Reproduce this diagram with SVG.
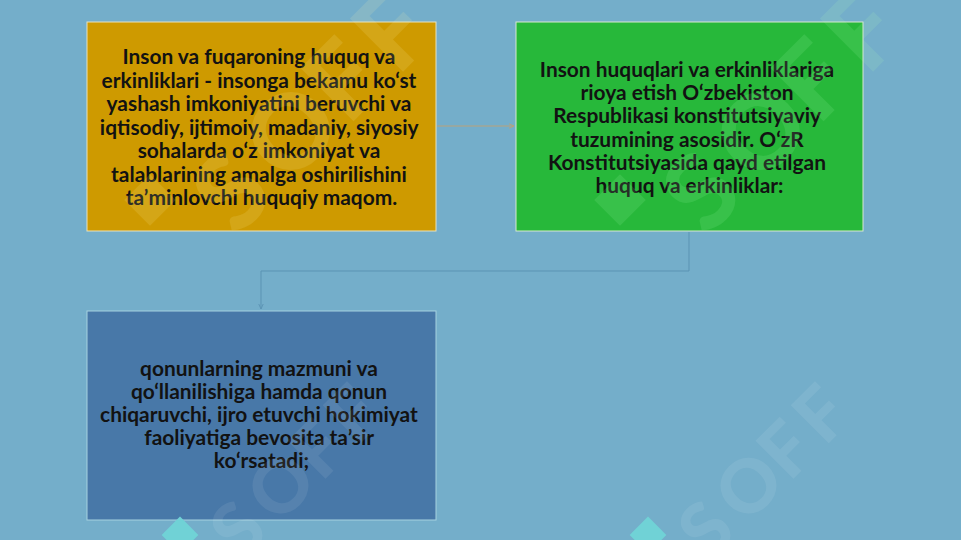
<svg xmlns="http://www.w3.org/2000/svg" xmlns:xlink="http://www.w3.org/1999/xlink" width="961" height="540" viewBox="0 0 961 540">
<style>
.box{stroke-width:1}
.t{font-family:Lato,"Noto Sans","Liberation Sans",sans-serif;font-weight:700;font-size:20.9px;fill:#121212;text-anchor:middle}
.wmt{font-family:Lato,"Liberation Sans",sans-serif;font-weight:900;font-size:74px;text-anchor:middle}
.conn{fill:none;stroke-width:1}
</style>
<defs>
<marker id="ahBlue" viewBox="0 0 10 10" refX="9" refY="5" markerWidth="6" markerHeight="6" orient="auto" markerUnits="userSpaceOnUse">
<path d="M0,1 L9,5 L0,9" fill="none" stroke="#5B93B3" stroke-width="1.5"/>
</marker>
<marker id="ahTan" viewBox="0 0 10 10" refX="9" refY="5" markerWidth="6" markerHeight="6" orient="auto" markerUnits="userSpaceOnUse">
<path d="M0,1 L9,5 L0,9" fill="none" stroke="#B9A27A" stroke-width="1.5"/>
</marker>
<g id="wmLetters">
<text class="wmt" x="45" y="63">S</text>
<text class="wmt" x="106" y="63">O</text>
<text class="wmt" x="158" y="63">F</text>
<text class="wmt" x="208" y="63">F</text>
</g>
</defs>
<rect width="961" height="540" fill="#74AECA"/>

<g id="node-1">
<rect class="box" x="87" y="22" width="349" height="209" fill="#CE9A00" stroke="#E6E2C0"/>
<text class="t">
<tspan x="261.5" y="64">Inson va fuqaroning huquq va</tspan>
<tspan x="261.5" y="87.5">erkinliklari - insonga bekamu ko‘st</tspan>
<tspan x="261.5" y="111">yashash imkoniyatini beruvchi va</tspan>
<tspan x="261.5" y="134.5">iqtisodiy, ijtimoiy, madaniy, siyosiy</tspan>
<tspan x="261.5" y="158">sohalarda o‘z imkoniyat va</tspan>
<tspan x="261.5" y="181.5">talablarining amalga oshirilishini</tspan>
<tspan x="261.5" y="205">ta’minlovchi huquqiy maqom.</tspan>
</text>
</g>

<g id="node-2">
<rect class="box" x="516" y="22" width="347" height="209" fill="#27B83A" stroke="#D8E8D0"/>
<text class="t">
<tspan x="689.5" y="77">Inson huquqlari va erkinliklariga</tspan>
<tspan x="689.5" y="100.2">rioya etish O‘zbekiston</tspan>
<tspan x="689.5" y="123.4">Respublikasi konstitutsiyaviy</tspan>
<tspan x="689.5" y="146.6">tuzumining asosidir. O‘zR</tspan>
<tspan x="689.5" y="169.8">Konstitutsiyasida qayd etilgan</tspan>
<tspan x="689.5" y="193">huquq va erkinliklar:</tspan>
</text>
</g>

<g id="node-3">
<rect class="box" x="87" y="311" width="349" height="209" fill="#4878A8" stroke="#A6D2E0"/>
<text class="t">
<tspan x="261.5" y="376">qonunlarning mazmuni va</tspan>
<tspan x="261.5" y="399">qo‘llanilishiga hamda qonun</tspan>
<tspan x="261.5" y="422">chiqaruvchi, ijro etuvchi hokimiyat</tspan>
<tspan x="261.5" y="445">faoliyatiga bevosita ta’sir</tspan>
<tspan x="261.5" y="468">ko‘rsatadi;</tspan>
</text>
</g>

<g id="connectors">
<path class="conn" d="M437,126 H514" stroke="#B9A27A" marker-end="url(#ahTan)"/>
<path class="conn" d="M689,232 V271 H261 V309" stroke="#5B93B3" marker-end="url(#ahBlue)"/>
</g>

<g id="watermark">
<g transform="translate(648,535) rotate(-45)">
<rect x="-13" y="-13" width="26" height="26" fill="#70D2D6"/>
<use xlink:href="#wmLetters" fill="#FFFFFF" fill-opacity="0.08"/>
</g>
<g transform="translate(180,535) rotate(-45)">
<rect x="-13" y="-13" width="26" height="26" fill="#70D2D6"/>
<use xlink:href="#wmLetters" fill="#FFFFFF" fill-opacity="0.08"/>
</g>
<g transform="translate(150,200) rotate(-45) scale(1.4)" fill="#FFF4B0" fill-opacity="0.13">
<rect x="-13" y="-13" width="26" height="26"/>
<use xlink:href="#wmLetters"/>
</g>
<g transform="translate(620,200) rotate(-45) scale(1.4)" fill="#B0FFB8" fill-opacity="0.13">
<rect x="-13" y="-13" width="26" height="26"/>
<use xlink:href="#wmLetters"/>
</g>
</g>
</svg>
